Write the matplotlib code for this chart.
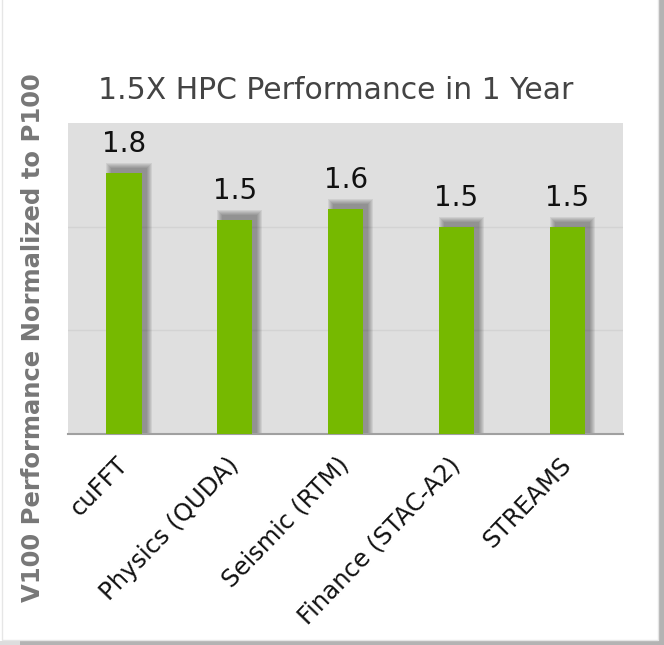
import numpy as np
import matplotlib.pyplot as plt
from matplotlib.patches import Rectangle

# 数据
categories = ['cuFFT', 'Physics (QUDA)', 'Seismic (RTM)', 'Finance (STAC-A2)', 'STREAMS']
values = [1.89, 1.55, 1.63, 1.5, 1.5]
value_labels = ['1.8', '1.5', '1.6', '1.5', '1.5']

green = '#76b900'

fig = plt.figure(figsize=(6.64, 6.45), dpi=100)

# 外框: 右侧和底部的灰色阴影边
fig.patches.append(Rectangle((659 / 664, 0), 5 / 664, 1, transform=fig.transFigure,
                             facecolor='#b3b3b3', lw=0, zorder=-1))
fig.patches.append(Rectangle((20 / 664, 0), 644 / 664, 4 / 645, transform=fig.transFigure,
                             facecolor='#b3b3b3', lw=0, zorder=-1))
fig.patches.append(Rectangle((0, 0), 20 / 664, 4 / 645, transform=fig.transFigure,
                             facecolor='#dddddd', lw=0, zorder=-1))
fig.patches.append(Rectangle((2 / 664, 5 / 645), 656 / 664, 0.999, transform=fig.transFigure,
                             facecolor='none', edgecolor='#e6e6e6', lw=1, zorder=-1))

ax = fig.add_axes([0.103, 0.327, 0.835, 0.482])
ax.set_facecolor('#dfdfdf')

x = np.arange(len(categories))
w = 0.32
px_x = 1 / 110.8   # 每像素对应的x数据单位
px_y = 2.25 / 311  # 每像素对应的y数据单位

# 柱子阴影 (向右上偏移, 模糊)
for g in [5, 4, 3, 2, 1, 0]:
    for xi, v in zip(x, values):
        ax.add_patch(Rectangle((xi - w / 2 + (5 - g) * px_x, 0),
                               w + 2 * g * px_x, v + (5 + g) * px_y,
                               facecolor='#303030', alpha=0.09, lw=0, zorder=1))

ax.bar(x, values, width=w, color=green, zorder=3)

for xi, v, s in zip(x, values, value_labels):
    ax.text(xi, v + 0.11, s, ha='center', va='bottom', fontsize=20, color='#111111')

ax.set_xlim(-0.5, len(categories) - 0.5)
ax.set_ylim(0, 2.25)
ax.set_yticks([0.75, 1.5])
ax.yaxis.grid(True, color='#d3d3d3', lw=1)
ax.set_axisbelow(True)
ax.tick_params(left=False, labelleft=False, bottom=False)
for s in ['top', 'right', 'left']:
    ax.spines[s].set_visible(False)
ax.spines['bottom'].set_color('#a0a0a0')
ax.spines['bottom'].set_linewidth(1.5)

ax.set_xticks(x)
ax.set_xticklabels(categories, rotation=46, ha='right', va='center', rotation_mode='anchor',
                   fontsize=17.5, color='#111111')
ax.tick_params(axis='x', pad=16)

fig.text(0.506, 0.86, '1.5X HPC Performance in 1 Year', ha='center', va='center',
         fontsize=21.5, color='#444444')
fig.text(0.05, 0.476, 'V100 Performance Normalized to P100', rotation=90, ha='center',
         va='center', fontsize=17.5, fontweight='bold', color='#777777')

fig.savefig('out.png', dpi=100)
